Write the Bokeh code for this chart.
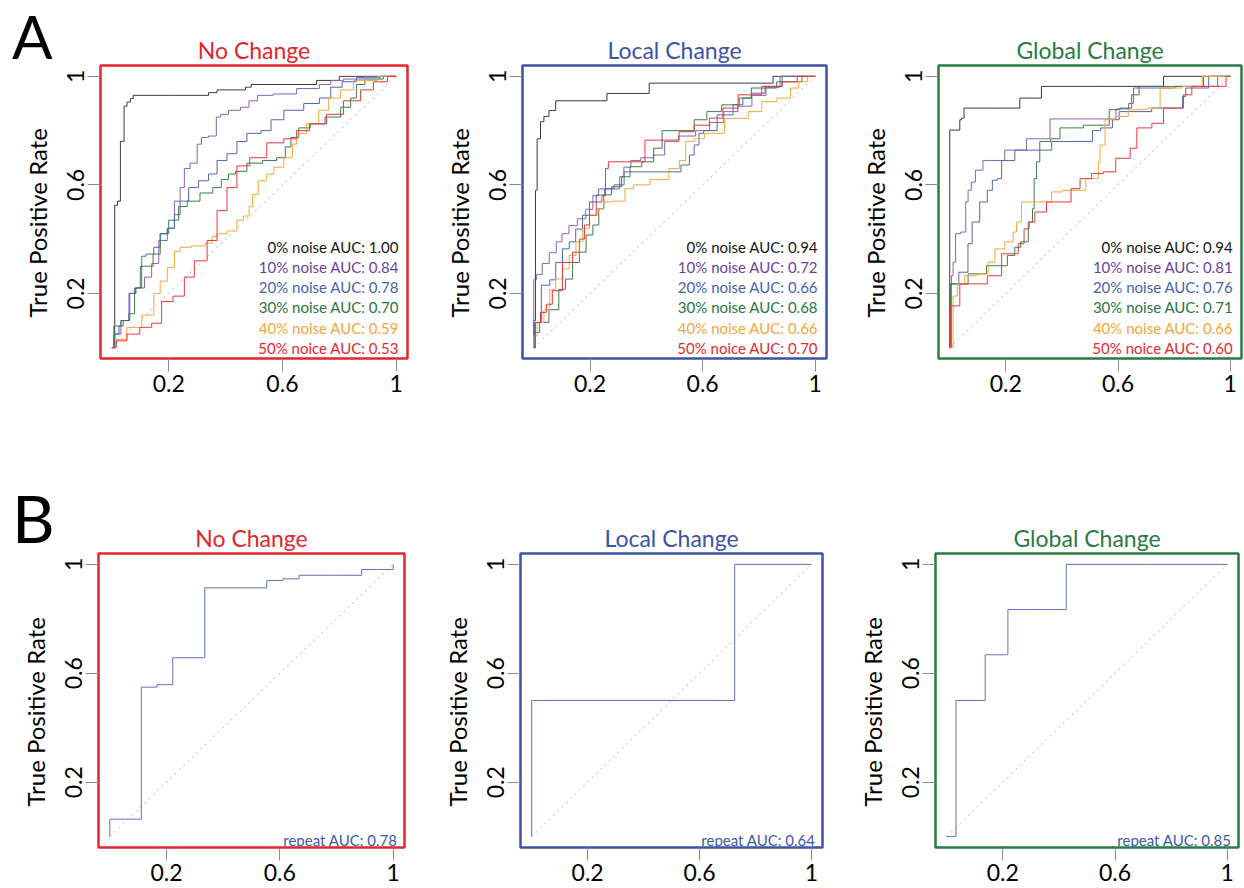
from bokeh.plotting import figure
from bokeh.layouts import row, column
from bokeh.models import FixedTicker, Range1d, ColumnDataSource, Div, GridBox, Title
from bokeh.core.properties import value
from bokeh.embed import file_html
from bokeh.resources import INLINE

FONT = "Lato"

# ---------------------------------------------------------------- data
TICKS = [0.2, 0.6, 1.0]
TICK_LABELS = ["0.2", "0.6", "1"]
CHANCE = [0.0, 1.0]

PANEL_LETTERS = ["A", "B"]
PANEL_TITLES = ["No Change", "Local Change", "Global Change"]
Y_LABEL = "True Positive Rate"
NOISE_LEVELS = [0, 10, 20, 30, 40, 50]
NOISE_WORDS = ["noise", "noise", "noise", "noise", "noise", "noice"]

AUC_NO_CHANGE = [1.00, 0.84, 0.78, 0.70, 0.59, 0.53]
AUC_LOCAL = [0.94, 0.72, 0.66, 0.68, 0.66, 0.70]
AUC_GLOBAL = [0.94, 0.81, 0.76, 0.71, 0.66, 0.60]
AUC_REPEAT = [0.78, 0.64, 0.85]

# No Change: ROC curves (false positive rate, true positive rate) per noise level
NC0_FPR = [0, 0.01, 0.01, 0.02, 0.02, 0.03, 0.03, 0.043, 0.043, 0.053, 0.053, 0.065, 0.065, 0.075,
           0.075, 0.34, 0.34, 0.37, 0.37, 0.47, 0.47, 0.49, 0.49, 0.72, 0.72, 0.80, 0.80, 1.0]
NC0_TPR = [0, 0, 0.525, 0.525, 0.54, 0.54, 0.76, 0.76, 0.89, 0.89, 0.905, 0.905, 0.918, 0.918,
           0.93, 0.93, 0.94, 0.94, 0.95, 0.95, 0.96, 0.96, 0.97, 0.97, 0.985, 0.985, 1.0, 1.0]
NC1_FPR = [0, 0.014, 0.05, 0.07, 0.10, 0.13, 0.15, 0.18, 0.21, 0.23, 0.25, 0.26, 0.29, 0.31, 0.32,
           0.36, 0.375, 0.39, 0.43, 0.475, 0.49, 0.535, 0.60, 0.70, 0.76, 0.78, 0.85, 0.92, 1.0]
NC1_TPR = [0, 0.05, 0.10, 0.20, 0.22, 0.26, 0.31, 0.395, 0.44, 0.54, 0.59, 0.66, 0.68, 0.75, 0.775,
           0.78, 0.85, 0.86, 0.875, 0.886, 0.91, 0.93, 0.935, 0.955, 0.97, 0.985, 0.99, 1.0, 1.0]
NC2_FPR = [0, 0.02, 0.03, 0.05, 0.076, 0.09, 0.105, 0.105, 0.135, 0.16, 0.18, 0.21, 0.23, 0.25, 0.29,
           0.32, 0.36, 0.38, 0.43, 0.45, 0.50, 0.55, 0.57, 0.64, 0.71, 0.75, 0.79, 0.83, 0.89, 1.0]
NC2_TPR = [0, 0.05, 0.08, 0.10, 0.20, 0.22, 0.22, 0.337, 0.345, 0.37, 0.42, 0.44, 0.49, 0.54, 0.59,
           0.615, 0.64, 0.69, 0.715, 0.76, 0.79, 0.80, 0.84, 0.875, 0.90, 0.92, 0.96, 0.98, 0.995, 1.0]
NC3_FPR = [0, 0.014, 0.05, 0.07, 0.09, 0.11, 0.13, 0.16, 0.18, 0.22, 0.25, 0.28, 0.34, 0.37, 0.40,
           0.42, 0.45, 0.50, 0.56, 0.60, 0.62, 0.64, 0.675, 0.72, 0.78, 0.83, 0.85, 0.87, 0.91, 1.0]
NC3_TPR = [0, 0.08, 0.10, 0.125, 0.22, 0.30, 0.30, 0.345, 0.42, 0.47, 0.52, 0.54, 0.57, 0.59, 0.62,
           0.64, 0.65, 0.68, 0.69, 0.70, 0.74, 0.775, 0.81, 0.825, 0.85, 0.886, 0.92, 0.97, 0.99, 1.0]
NC4_FPR = [0, 0.03, 0.076, 0.135, 0.16, 0.18, 0.21, 0.23, 0.25, 0.31, 0.345, 0.36, 0.38, 0.43, 0.45,
           0.475, 0.49, 0.50, 0.53, 0.56, 0.58, 0.63, 0.64, 0.66, 0.71, 0.745, 0.78, 0.83, 0.87, 1.0]
NC4_TPR = [0, 0.03, 0.074, 0.12, 0.20, 0.245, 0.295, 0.355, 0.37, 0.375, 0.385, 0.41, 0.42, 0.43, 0.47,
           0.485, 0.52, 0.565, 0.615, 0.64, 0.665, 0.70, 0.75, 0.79, 0.825, 0.875, 0.92, 0.95, 0.985, 1.0]
NC5_FPR = [0, 0.03, 0.076, 0.12, 0.16, 0.19, 0.24, 0.27, 0.31, 0.36, 0.38, 0.43, 0.45, 0.52, 0.57,
           0.64, 0.66, 0.73, 0.78, 0.85, 0.90, 0.94, 1.0]
NC5_TPR = [0, 0.025, 0.05, 0.075, 0.09, 0.17, 0.19, 0.26, 0.32, 0.395, 0.505, 0.59, 0.67, 0.70, 0.755,
           0.77, 0.80, 0.825, 0.86, 0.91, 0.95, 0.98, 1.0]

# Local Change
LC0_FPR = [0, 0, 0.006, 0.006, 0.012, 0.012, 0.024, 0.024, 0.036, 0.036, 0.054, 0.054, 0.078, 0.078,
           0.26, 0.26, 0.41, 0.41, 0.85, 0.85, 1.0]
LC0_TPR = [0, 0.10, 0.10, 0.58, 0.58, 0.77, 0.77, 0.833, 0.833, 0.852, 0.852, 0.874, 0.874, 0.91,
           0.91, 0.937, 0.937, 0.975, 0.975, 1.0, 1.0]
LC1_FPR = [0, 0, 0.02, 0.04, 0.07, 0.09, 0.11, 0.14, 0.17, 0.20, 0.22, 0.24, 0.30, 0.31, 0.33, 0.36,
           0.40, 0.45, 0.48, 0.55, 0.60, 0.65, 0.70, 0.75, 0.80, 0.85, 0.90, 1.0]
LC1_TPR = [0, 0.25, 0.27, 0.31, 0.35, 0.39, 0.42, 0.45, 0.475, 0.51, 0.56, 0.585, 0.585, 0.63, 0.665,
           0.69, 0.70, 0.71, 0.76, 0.78, 0.80, 0.83, 0.87, 0.89, 0.93, 0.96, 1.0, 1.0]
LC2_FPR = [0, 0.006, 0.048, 0.066, 0.09, 0.114, 0.138, 0.16, 0.186, 0.21, 0.234, 0.27, 0.30, 0.342,
           0.50, 0.546, 0.56, 0.58, 0.594, 0.613, 0.69, 0.726, 0.76, 0.786, 0.858, 0.906, 1.0]
LC2_TPR = [0, 0.093, 0.23, 0.25, 0.314, 0.364, 0.39, 0.437, 0.488, 0.537, 0.563, 0.586, 0.60, 0.648,
           0.648, 0.673, 0.71, 0.747, 0.79, 0.80, 0.858, 0.895, 0.92, 0.938, 0.963, 1.0, 1.0]
LC3_FPR = [0, 0.012, 0.03, 0.078, 0.10, 0.126, 0.15, 0.174, 0.198, 0.222, 0.24, 0.258, 0.294, 0.33,
           0.354, 0.414, 0.438, 0.474, 0.546, 0.594, 0.636, 0.70, 0.76, 0.786, 0.94, 0.966, 1.0]
LC3_TPR = [0, 0.056, 0.093, 0.14, 0.215, 0.253, 0.314, 0.352, 0.415, 0.452, 0.512, 0.563, 0.593, 0.63,
           0.667, 0.685, 0.735, 0.80, 0.80, 0.84, 0.87, 0.895, 0.92, 0.957, 0.98, 1.0, 1.0]
LC4_FPR = [0, 0, 0.024, 0.048, 0.066, 0.09, 0.114, 0.138, 0.162, 0.186, 0.21, 0.24, 0.258, 0.306,
           0.342, 0.366, 0.46, 0.50, 0.534, 0.546, 0.594, 0.618, 0.738, 0.786, 0.834, 0.894, 0.93,
           0.954, 0.99, 1.0]
LC4_TPR = [0, 0.043, 0.093, 0.14, 0.214, 0.253, 0.29, 0.34, 0.39, 0.44, 0.488, 0.512, 0.537, 0.54,
           0.586, 0.60, 0.62, 0.66, 0.69, 0.76, 0.77, 0.79, 0.845, 0.87, 0.907, 0.92, 0.957, 0.98,
           1.0, 1.0]
LC5_FPR = [0, 0.012, 0.036, 0.054, 0.078, 0.126, 0.15, 0.174, 0.186, 0.21, 0.234, 0.25, 0.26, 0.27,
           0.39, 0.40, 0.486, 0.546, 0.594, 0.654, 0.69, 0.762, 0.858, 0.906, 0.966, 1.0]
LC5_TPR = [0, 0.093, 0.13, 0.16, 0.21, 0.314, 0.352, 0.40, 0.452, 0.488, 0.537, 0.56, 0.66, 0.685,
           0.685, 0.765, 0.765, 0.796, 0.82, 0.846, 0.883, 0.932, 0.963, 0.98, 1.0, 1.0]

# Global Change
GC0_FPR = [0, 0, 0.036, 0.036, 0.048, 0.054, 0.25, 0.25, 0.327, 0.327, 0.756, 0.768, 1.0]
GC0_TPR = [0, 0.802, 0.802, 0.84, 0.846, 0.883, 0.883, 0.92, 0.92, 0.963, 0.963, 1.0, 1.0]
GC1_FPR = [0, 0.006, 0.006, 0.018, 0.024, 0.054, 0.06, 0.071, 0.083, 0.10, 0.137, 0.16, 0.232, 0.315,
           0.40, 0.565, 0.62, 0.655, 0.655, 0.95, 0.96, 1.0]
GC1_TPR = [0, 0, 0.265, 0.315, 0.42, 0.426, 0.537, 0.58, 0.61, 0.654, 0.69, 0.69, 0.728, 0.77,
           0.843, 0.843, 0.88, 0.90, 0.957, 0.963, 1.0, 1.0]
GC2_FPR = [0, 0, 0.065, 0.065, 0.095, 0.119, 0.149, 0.155, 0.185, 0.185, 0.232, 0.232, 0.34, 0.387,
           0.506, 0.512, 0.565, 0.595, 0.613, 0.827, 0.833, 0.85, 0.923, 0.923, 1.0]
GC2_TPR = [0, 0.235, 0.278, 0.383, 0.463, 0.537, 0.58, 0.617, 0.623, 0.69, 0.69, 0.728, 0.728, 0.76,
           0.76, 0.80, 0.81, 0.84, 0.87, 0.883, 0.926, 0.957, 0.957, 1.0, 1.0]
GC3_FPR = [0, 0.006, 0.054, 0.077, 0.185, 0.226, 0.238, 0.268, 0.292, 0.298, 0.304, 0.315, 0.327,
           0.393, 0.393, 0.56, 0.577, 0.637, 0.66, 0.69, 0.90, 0.91, 1.0]
GC3_TPR = [0, 0.235, 0.235, 0.272, 0.302, 0.34, 0.37, 0.39, 0.463, 0.512, 0.623, 0.685, 0.76, 0.77,
           0.81, 0.82, 0.877, 0.883, 0.932, 0.963, 0.963, 1.0, 1.0]
GC4_FPR = [0, 0.012, 0.012, 0.042, 0.065, 0.125, 0.149, 0.173, 0.22, 0.232, 0.244, 0.268, 0.363,
           0.363, 0.44, 0.53, 0.53, 0.542, 0.565, 0.613, 0.66, 0.744, 0.756, 0.9, 0.9, 1.0]
GC4_TPR = [0, 0, 0.19, 0.235, 0.265, 0.272, 0.315, 0.364, 0.39, 0.426, 0.463, 0.537, 0.537, 0.574,
           0.58, 0.623, 0.685, 0.747, 0.84, 0.852, 0.877, 0.883, 0.957, 0.963, 1.0, 1.0]
GC5_FPR = [0, 0.006, 0.036, 0.036, 0.125, 0.143, 0.185, 0.185, 0.232, 0.256, 0.274, 0.292, 0.315,
           0.375, 0.43, 0.435, 0.494, 0.518, 0.577, 0.607, 0.637, 0.649, 0.685, 0.756, 0.768, 0.827,
           0.839, 0.887, 0.97, 1.0]
GC5_TPR = [0, 0.154, 0.154, 0.235, 0.235, 0.265, 0.265, 0.346, 0.346, 0.383, 0.438, 0.463, 0.50,
           0.537, 0.537, 0.586, 0.623, 0.642, 0.648, 0.698, 0.698, 0.735, 0.81, 0.827, 0.883, 0.883,
           0.932, 0.963, 0.963, 1.0]

# Repeat experiment, one curve per condition
RP_NC_FPR = [0, 0, 0.111, 0.111, 0.222, 0.222, 0.335, 0.335, 0.554, 0.554, 0.668, 0.668, 0.889,
             0.889, 1.0, 1.0]
RP_NC_TPR = [0, 0.064, 0.064, 0.549, 0.558, 0.657, 0.657, 0.914, 0.914, 0.941, 0.947, 0.96, 0.96,
             0.981, 0.981, 1.0]
RP_LC_FPR = [0, 0, 0.726, 0.726, 1.0]
RP_LC_TPR = [0, 0.5, 0.5, 1.0, 1.0]
RP_GC_FPR = [0, 0.033, 0.033, 0.137, 0.137, 0.218, 0.218, 0.426, 0.426, 1.0]
RP_GC_TPR = [0, 0, 0.5, 0.5, 0.668, 0.668, 0.834, 0.834, 1.0, 1.0]

# ---------------------------------------------------------------- styling
FRAME_COLORS = ["#e3262c", "#3b54a4", "#2a7b40"]
CURVE_COLORS = ["#3a3a3a", "#8a62b4", "#4f67b1", "#3b7d47", "#f6a63a", "#e5383e"]
TEXT_COLORS = ["#151515", "#6d3f97", "#4762ad", "#267542", "#f5a53a", "#e3292e"]
REPEAT_CURVE = "#6471b8"
REPEAT_TEXT = "#3d5aa8"
CHANCE_COLOR = "#9c9c9c"


def make_panel(width, height, left, right, top, bottom, frame_color, title):
    p = figure(width=width, height=height, title=title,
               x_range=Range1d(-0.04, 1.04), y_range=Range1d(-0.04, 1.04),
               output_backend="svg", toolbar_location=None,
               min_border_left=left, min_border_right=right,
               min_border_top=top, min_border_bottom=bottom)
    p.background_fill_color = "white"
    p.border_fill_color = "white"
    p.outline_line_color = frame_color
    p.outline_line_width = 2.5
    p.outline_line_alpha = 1.0
    p.grid.visible = False

    p.title.align = "center"
    p.title.text_color = frame_color
    p.title.text_font = FONT
    p.title.text_font_size = "23px"
    p.title.text_font_style = "normal"
    p.title.standoff = 4

    overrides = {t: lab for t, lab in zip(TICKS, TICK_LABELS)}
    for ax in (p.xaxis[0], p.yaxis[0]):
        ax.ticker = FixedTicker(ticks=TICKS, minor_ticks=[])
        ax.major_label_overrides = overrides
        ax.axis_line_color = None
        ax.major_tick_line_color = "#8c8c8c"
        ax.major_tick_line_width = 1
        ax.major_tick_out = 13
        ax.major_tick_in = 0
        ax.minor_tick_line_color = None
        ax.major_label_text_font = FONT
        ax.major_label_text_font_size = "23px"
        ax.major_label_text_color = "black"
        ax.major_label_standoff = 3
    p.yaxis[0].major_label_orientation = "vertical"

    # y label as a side title, starting a fixed distance above the frame bottom
    p.add_layout(Title(text=Y_LABEL, align="left", offset=41, standoff=25,
                       text_font=FONT, text_font_size="24px", text_font_style="normal",
                       text_color="black"), "left")

    p.line(CHANCE, CHANCE, line_color=CHANCE_COLOR, line_width=0.8, line_dash="dotted")
    return p


def add_noise_panel(p, curves, aucs):
    for (fpr, tpr), color in zip(curves, CURVE_COLORS):
        p.step(fpr, tpr, mode="center", line_color=color, line_width=1)
    texts = ["%d%% %s AUC: %.2f" % (lvl, word, auc)
             for lvl, word, auc in zip(NOISE_LEVELS, NOISE_WORDS, aucs)]
    n = len(texts)
    src = ColumnDataSource(dict(
        x=[1.01] * n,
        y=[0.37 - 0.074 * i for i in range(n)],
        text=texts,
        color=TEXT_COLORS[:n],
    ))
    p.text("x", "y", text="text", text_color="color", source=src,
           text_align="right", text_baseline="alphabetic",
           text_font=value(FONT), text_font_size="15px")


def add_repeat_panel(p, fpr, tpr, auc):
    p.step(fpr, tpr, mode="center", line_color=REPEAT_CURVE, line_width=1)
    src = ColumnDataSource(dict(x=[1.015], y=[-0.012], text=["repeat AUC: %.2f" % auc]))
    p.text("x", "y", text="text", source=src, text_color=REPEAT_TEXT,
           text_align="right", text_baseline="alphabetic",
           text_font=value(FONT), text_font_size="15px")


def panel_letter(letter, size, top, left):
    return Div(text=letter, width=60, height=int(size * 1.3), margin=(top, 0, 0, left),
               styles={"font-family": FONT, "font-size": "%dpx" % size,
                       "line-height": "1.2", "color": "black"})


# ---------------------------------------------------------------- row A
a1 = make_panel(415, 444, 100, 8, 65, 86, FRAME_COLORS[0], PANEL_TITLES[0])
a2 = make_panel(415, 444, 107, 4, 65, 86, FRAME_COLORS[1], PANEL_TITLES[1])
a3 = make_panel(414, 444, 108, 3, 65, 86, FRAME_COLORS[2], PANEL_TITLES[2])

add_noise_panel(a1, [(NC0_FPR, NC0_TPR), (NC1_FPR, NC1_TPR), (NC2_FPR, NC2_TPR),
                     (NC3_FPR, NC3_TPR), (NC4_FPR, NC4_TPR), (NC5_FPR, NC5_TPR)], AUC_NO_CHANGE)
add_noise_panel(a2, [(LC0_FPR, LC0_TPR), (LC1_FPR, LC1_TPR), (LC2_FPR, LC2_TPR),
                     (LC3_FPR, LC3_TPR), (LC4_FPR, LC4_TPR), (LC5_FPR, LC5_TPR)], AUC_LOCAL)
add_noise_panel(a3, [(GC0_FPR, GC0_TPR), (GC1_FPR, GC1_TPR), (GC2_FPR, GC2_TPR),
                     (GC3_FPR, GC3_TPR), (GC4_FPR, GC4_TPR), (GC5_FPR, GC5_TPR)], AUC_GLOBAL)

# ---------------------------------------------------------------- row B
b1 = make_panel(415, 444, 98, 11, 109, 41, FRAME_COLORS[0], PANEL_TITLES[0])
b2 = make_panel(415, 444, 105, 8, 109, 41, FRAME_COLORS[1], PANEL_TITLES[1])
b3 = make_panel(414, 444, 105, 6, 109, 41, FRAME_COLORS[2], PANEL_TITLES[2])

add_repeat_panel(b1, RP_NC_FPR, RP_NC_TPR, AUC_REPEAT[0])
add_repeat_panel(b2, RP_LC_FPR, RP_LC_TPR, AUC_REPEAT[1])
add_repeat_panel(b3, RP_GC_FPR, RP_GC_TPR, AUC_REPEAT[2])

panels = column(row(a1, a2, a3), row(b1, b2, b3))
letter_a = panel_letter(PANEL_LETTERS[0], 60, 0, 12)
letter_b = panel_letter(PANEL_LETTERS[1], 66, 478, 12)

layout = GridBox(children=[(panels, 0, 0), (letter_a, 0, 0), (letter_b, 0, 0)])

with open("out.html", "w") as f:
    f.write(file_html(layout, INLINE))
